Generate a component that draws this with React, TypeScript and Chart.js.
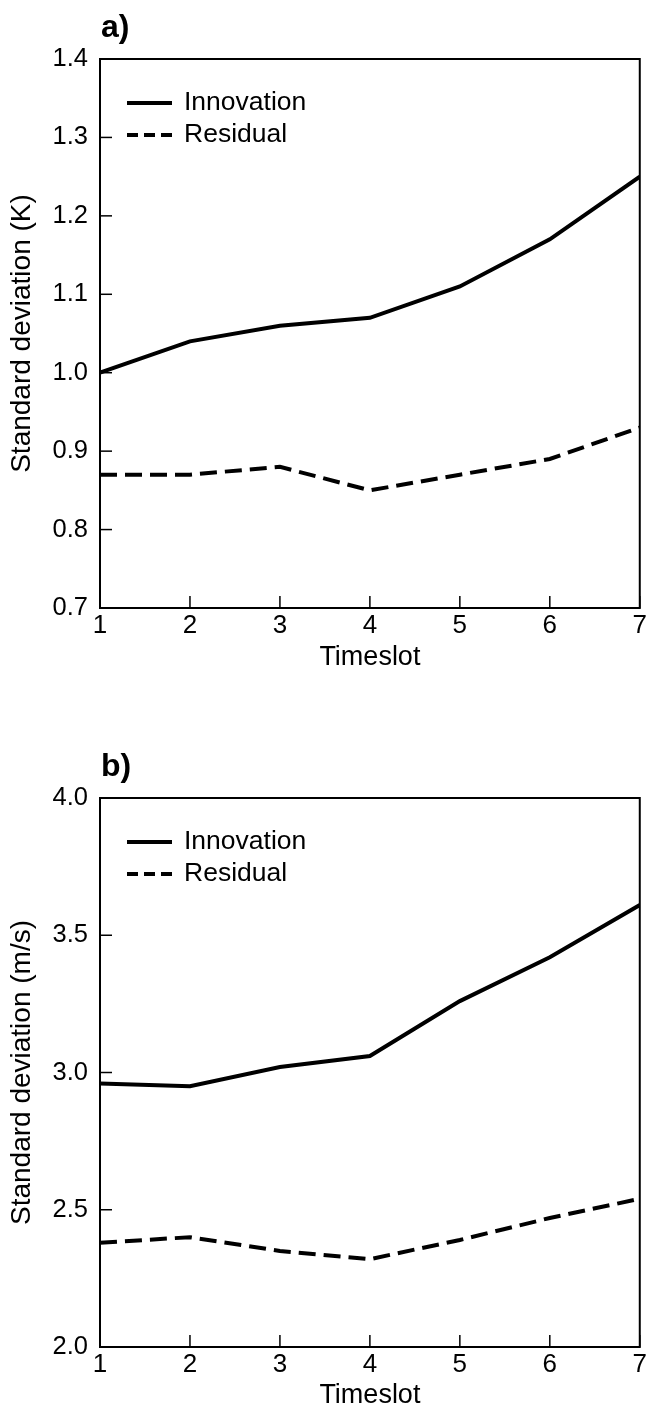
import React, { useEffect, useRef } from "react";
import { Chart, registerables } from "chart.js";

Chart.register(...registerables);

// ---- data ----
const timeslots = [1, 2, 3, 4, 5, 6, 7];
const tempInnovation = [1.0, 1.04, 1.06, 1.07, 1.11, 1.17, 1.25];
const tempResidual = [0.87, 0.87, 0.88, 0.85, 0.87, 0.89, 0.93];
const windInnovation = [2.96, 2.95, 3.02, 3.06, 3.26, 3.42, 3.61];
const windResidual = [2.38, 2.4, 2.35, 2.32, 2.39, 2.47, 2.54];
const seriesLabels = ["Innovation", "Residual"];
const panelLabels = ["a)", "b)"];
const yTitles = ["Standard deviation (K)", "Standard deviation (m/s)"];
const xTitle = "Timeslot";
const tempRange = [0.7, 1.4, 0.1];
const windRange = [2.0, 4.0, 0.5];

const FONT = "'Liberation Sans', Arial, Helvetica, sans-serif";

function makeDecor(panel: string) {
  return {
    id: "decor",
    afterDatasetsDraw(chart: any) {
      const { ctx, chartArea: a, scales } = chart;
      const xs = scales.x;
      const ys = scales.y;
      ctx.save();
      ctx.strokeStyle = "#000";
      ctx.fillStyle = "#000";
      ctx.lineWidth = 2;
      ctx.strokeRect(a.left, a.top, a.right - a.left, a.bottom - a.top);
      ctx.lineWidth = 1.5;
      ys.ticks.forEach((t: any) => {
        const y = ys.getPixelForValue(t.value);
        ctx.beginPath();
        ctx.moveTo(a.left, y);
        ctx.lineTo(a.left + 12, y);
        ctx.stroke();
      });
      xs.ticks.forEach((t: any) => {
        const x = xs.getPixelForValue(t.value);
        ctx.beginPath();
        ctx.moveTo(x, a.bottom);
        ctx.lineTo(x, a.bottom - 12);
        ctx.stroke();
      });
      // legend inside plot
      const legendY = [a.top + 44, a.top + 76];
      chart.data.datasets.forEach((ds: any, i: number) => {
        const y = legendY[i];
        ctx.lineWidth = 4;
        ctx.setLineDash(ds.borderDash && ds.borderDash.length ? [11, 6] : []);
        ctx.beginPath();
        ctx.moveTo(a.left + 27, y);
        ctx.lineTo(a.left + 72, y);
        ctx.stroke();
        ctx.setLineDash([]);
        ctx.font = `26.5px ${FONT}`;
        ctx.textBaseline = "middle";
        ctx.textAlign = "left";
        ctx.fillText(ds.label, a.left + 84, y);
      });
      // panel label
      ctx.font = `bold 32px ${FONT}`;
      ctx.textBaseline = "alphabetic";
      ctx.textAlign = "left";
      ctx.fillText(panel, a.left + 1, a.top - 22);
      ctx.restore();
    },
  };
}

function makeConfig(
  innovation: number[],
  residual: number[],
  range: number[],
  yTitle: string,
  panel: string,
  padTop: number,
  padBottom: number,
  xHeight: number
): any {
  return {
    type: "line",
    data: {
      datasets: [
        {
          label: seriesLabels[0],
          data: timeslots.map((t, i) => ({ x: t, y: innovation[i] })),
          borderColor: "#000",
          borderWidth: 4,
          pointRadius: 0,
          tension: 0,
          fill: false,
        },
        {
          label: seriesLabels[1],
          data: timeslots.map((t, i) => ({ x: t, y: residual[i] })),
          borderColor: "#000",
          borderWidth: 4,
          borderDash: [17, 8],
          pointRadius: 0,
          tension: 0,
          fill: false,
        },
      ],
    },
    options: {
      responsive: false,
      animation: false,
      layout: { padding: { top: padTop, right: 8, bottom: padBottom, left: 0 } },
      plugins: {
        legend: { display: false },
        title: { display: false },
        tooltip: { enabled: false },
      },
      scales: {
        x: {
          type: "linear",
          min: 1,
          max: 7,
          grid: { display: false, drawTicks: false },
          border: { display: false },
          ticks: {
            stepSize: 1,
            padding: 2,
            color: "#000",
            font: { family: FONT, size: 26 },
            maxRotation: 0,
          },
          title: {
            display: true,
            text: xTitle,
            color: "#000",
            font: { family: FONT, size: 27 },
            padding: { top: 0, bottom: 0 },
          },
          afterFit: (s: any) => {
            s.height = xHeight;
          },
        },
        y: {
          type: "linear",
          min: range[0],
          max: range[1],
          grid: { display: false, drawTicks: false },
          border: { display: false },
          ticks: {
            stepSize: range[2],
            padding: 12,
            color: "#000",
            font: { family: FONT, size: 25.5 },
            callback: (v: any) => Number(v).toFixed(1),
          },
          title: {
            display: true,
            text: yTitle,
            color: "#000",
            font: { family: FONT, size: 28 },
            padding: { top: 5, bottom: 0 },
          },
          afterFit: (s: any) => {
            s.width = 100;
          },
        },
      },
    },
    plugins: [makeDecor(panel)],
  };
}

function Panel(props: { cfg: any; height: number }) {
  const ref = useRef<HTMLCanvasElement | null>(null);
  useEffect(() => {
    if (!ref.current) return;
    const chart = new Chart(ref.current, props.cfg);
    return () => chart.destroy();
  }, []);
  return (
    <canvas
      ref={ref}
      width={649}
      height={props.height}
      style={{ display: "block", width: 649, height: props.height }}
    />
  );
}

export default function App() {
  const cfgA = makeConfig(tempInnovation, tempResidual, tempRange, yTitles[0], panelLabels[0], 59, 26, 66);
  const cfgB = makeConfig(windInnovation, windResidual, windRange, yTitles[1], panelLabels[1], 98, 0, 65);
  return (
    <div style={{ position: "absolute", left: 0, top: 0, width: 649, height: 1412, background: "#fff" }}>
      <Panel cfg={cfgA} height={700} />
      <Panel cfg={cfgB} height={712} />
    </div>
  );
}
